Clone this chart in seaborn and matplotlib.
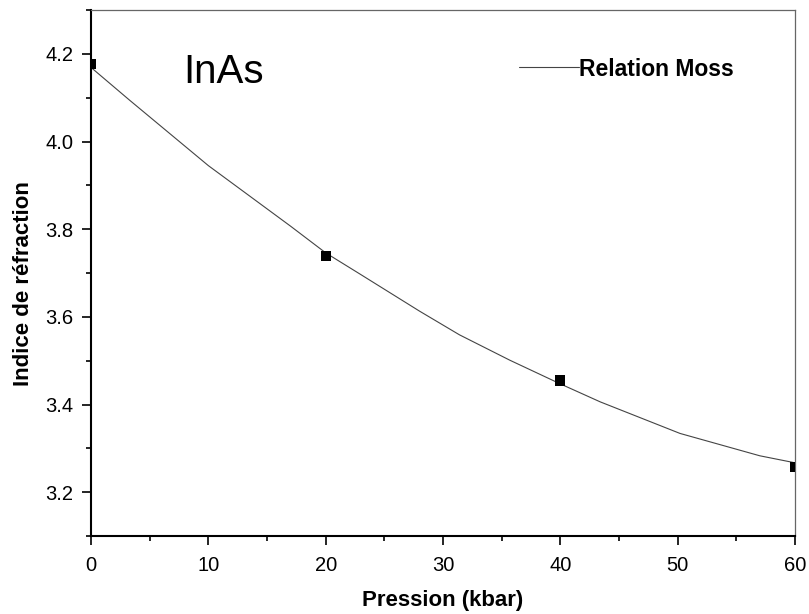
import matplotlib
matplotlib.use("Agg")
import matplotlib.pyplot as plt
import seaborn as sns
import pandas as pd
from matplotlib.ticker import MultipleLocator, FormatStrFormatter

# Data points (pressure in kbar, refractive index)
pression = [0, 20, 40, 60]
indice = [4.177, 3.738, 3.455, 3.258]

# Curve "Relation Moss"
curve_x = [0, 3.3, 10, 17, 20, 22.9, 28.0, 31.4, 35.7, 40, 43.4, 50.2, 57.0, 60]
curve_y = [4.169, 4.094, 3.945, 3.807, 3.746, 3.698, 3.613, 3.559, 3.501,
           3.447, 3.406, 3.334, 3.283, 3.267]

sns.set_style("ticks")
plt.rcParams['font.family'] = ['Liberation Sans', 'DejaVu Sans']
plt.rcParams['text.color'] = 'black'
plt.rcParams['axes.labelcolor'] = 'black'

fig = plt.figure(figsize=(8.09, 6.14), dpi=100)
ax = fig.add_axes([91/809, 1-536/614, 704/809, 526/614])

pts = pd.DataFrame({"x": pression, "y": indice})
crv = pd.DataFrame({"x": curve_x, "y": curve_y})

sns.lineplot(data=crv, x="x", y="y", ax=ax, color="#444444", linewidth=0.8,
             label="Relation Moss", sort=False, estimator=None)
sns.scatterplot(data=pts, x="x", y="y", ax=ax, color="black", marker="s",
                s=55, edgecolor="none", zorder=3, legend=False)

ax.set_xlim(0, 60)
ax.set_ylim(3.1, 4.3)
ax.xaxis.set_major_locator(MultipleLocator(10))
ax.xaxis.set_minor_locator(MultipleLocator(5))
ax.yaxis.set_major_locator(MultipleLocator(0.2))
ax.yaxis.set_minor_locator(MultipleLocator(0.1))
ax.yaxis.set_major_formatter(FormatStrFormatter('%.1f'))

for s in ["left", "bottom"]:
    ax.spines[s].set_linewidth(1.5)
    ax.spines[s].set_color("black")
for s in ["top", "right"]:
    ax.spines[s].set_visible(True)
    ax.spines[s].set_linewidth(0.9)
    ax.spines[s].set_color("#666666")

ax.tick_params(axis="both", which="major", direction="out", length=6.5,
               width=1.2, labelsize=14.5, pad=6, colors="black",
               top=False, right=False)
ax.tick_params(axis="x", which="major", pad=8)
ax.tick_params(axis="both", which="minor", direction="out", length=3.5,
               width=1.2, colors="black", top=False, right=False)

ax.set_xlabel("Pression (kbar)", fontsize=16, fontweight="bold", color="black")
ax.set_ylabel("Indice de réfraction", fontsize=16, fontweight="bold", color="black")
ax.xaxis.set_label_coords(0.5, -0.103)
ax.yaxis.set_label_coords(-0.081, 0.48)

ax.text((183-91)/704, 1-(72-10)/526, "InAs", transform=ax.transAxes,
        fontsize=29, ha="left", va="center", color="black")

leg = ax.legend(loc="center left", bbox_to_anchor=((519-91)/704, 1-(69-10)/526),
                frameon=False, borderpad=0, borderaxespad=0, handlelength=2.6,
                handletextpad=0.0, prop={"size": 16.5, "weight": "bold"})

fig.savefig("out.png", dpi=100)
